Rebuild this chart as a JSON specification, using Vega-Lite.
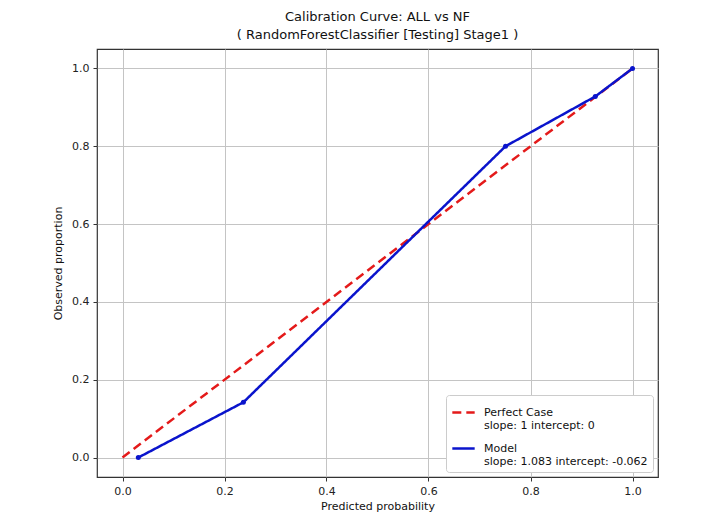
{
  "$schema": "https://vega.github.io/schema/vega-lite/v6.json",
  "width": 561,
  "height": 428,
  "autosize": {"type": "none"},
  "padding": {"left": 97, "top": 49, "right": 47, "bottom": 37},
  "background": "white",
  "title": {
    "text": ["Calibration Curve: ALL vs NF", "( RandomForestClassifier [Testing] Stage1 )"],
    "fontSize": 13,
    "fontWeight": "normal",
    "font": "DejaVu Sans",
    "color": "#111",
    "anchor": "middle",
    "offset": 7,
    "lineHeight": 18
  },
  "config": {
    "font": "DejaVu Sans",
    "view": {"stroke": "#333", "strokeWidth": 1.2},
    "axis": {
      "labelFont": "DejaVu Sans",
      "labelFontSize": 11,
      "labelColor": "#222",
      "titleFont": "DejaVu Sans",
      "titleFontSize": 11,
      "titleFontWeight": "normal",
      "titleColor": "#111",
      "tickColor": "#333",
      "tickSize": 4,
      "domain": false,
      "gridColor": "#c4c4c4",
      "gridWidth": 1,
      "labelPadding": 4
    }
  },
  "datasets": {
    "curves": [
      {"series": "Perfect", "x": 0.0, "y": 0.0},
      {"series": "Perfect", "x": 1.0, "y": 1.0},
      {"series": "Model", "x": 0.031, "y": 0.0},
      {"series": "Model", "x": 0.237, "y": 0.142},
      {"series": "Model", "x": 0.751, "y": 0.8},
      {"series": "Model", "x": 0.927, "y": 0.928},
      {"series": "Model", "x": 1.0, "y": 1.0}
    ]
  },
  "data": {"name": "curves"},
  "encoding": {
    "x": {
      "field": "x",
      "type": "quantitative",
      "scale": {"domain": [-0.05, 1.05], "nice": false, "zero": false},
      "axis": {"title": "Predicted probability", "values": [0, 0.2, 0.4, 0.6, 0.8, 1.0], "format": ".1f", "titlePadding": 4}
    },
    "y": {
      "field": "y",
      "type": "quantitative",
      "scale": {"domain": [-0.05, 1.05], "nice": false, "zero": false},
      "axis": {"title": "Observed proportion", "values": [0, 0.2, 0.4, 0.6, 0.8, 1.0], "format": ".1f", "titlePadding": 8}
    }
  },
  "layer": [
    {
      "mark": {"type": "line", "strokeWidth": 2.5},
      "encoding": {
        "color": {
          "field": "series",
          "type": "nominal",
          "scale": {"domain": ["Perfect", "Model"], "range": ["#e41a1a", "#0a14cc"]},
          "legend": {
            "title": null,
            "orient": "bottom-right",
            "offset": 5,
            "labelExpr": "datum.label == 'Perfect' ? ['Perfect Case', 'slope: 1 intercept: 0'] : ['Model', 'slope: 1.083 intercept: -0.062']",
            "labelFont": "DejaVu Sans",
            "labelFontSize": 11,
            "labelColor": "#111",
            "labelLimit": 300,
            "labelOffset": 8,
            "fillColor": "white",
            "strokeColor": "#ccc",
            "cornerRadius": 3,
            "padding": 5,
            "rowPadding": 5,
            "symbolType": "stroke",
            "symbolStrokeWidth": 2.5,
            "symbolSize": 500
          }
        },
        "strokeDash": {
          "field": "series",
          "type": "nominal",
          "scale": {"domain": ["Perfect", "Model"], "range": [[9, 5], [1, 0]]},
          "legend": null
        }
      }
    },
    {
      "transform": [{"filter": "datum.series == 'Model'"}],
      "mark": {"type": "point", "filled": true, "size": 25, "color": "#0a14cc", "opacity": 1}
    }
  ]
}
